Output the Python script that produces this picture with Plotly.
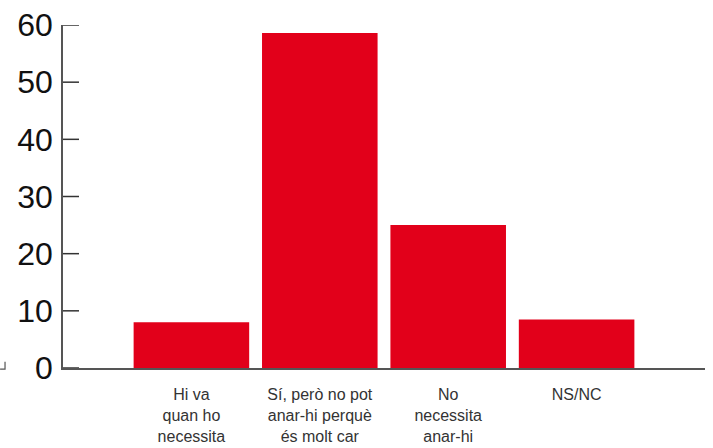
import plotly.graph_objects as go

categories = ["Hi va<br>quan ho<br>necessita",
              "Sí, però no pot<br>anar-hi perquè<br>és molt car",
              "No<br>necessita<br>anar-hi",
              "NS/NC"]
values = [8.0, 58.6, 25.0, 8.5]
yticks = [0, 10, 20, 30, 40, 50, 60]

xpos = list(range(len(categories)))

fig = go.Figure(go.Bar(x=xpos, y=values, marker_color="#E2001A",
                       marker_line_width=0, width=0.9))

tick_shapes = [dict(type="line", xref="paper", yref="y",
                    x0=0, x1=16 / 642, y0=t, y1=t,
                    line=dict(color="#333", width=1.5))
               for t in yticks]

fig.update_layout(
    width=713, height=448,
    margin=dict(l=63, r=8, t=25, b=80, autoexpand=False),
    paper_bgcolor="white", plot_bgcolor="white",
    showlegend=False,
    xaxis=dict(range=[-1, 4], tickvals=xpos, ticktext=categories,
               showline=True, linecolor="#555", linewidth=1.5,
               ticks="", showgrid=False, zeroline=False, automargin=False,
               tickfont=dict(family="Liberation Sans, Arial", size=16, color="#333"),
               ticklabelstandoff=11),
    yaxis=dict(range=[0, 60], tickvals=yticks,
               showline=True, linecolor="#555", linewidth=1.5,
               ticks="", showgrid=False, zeroline=False, automargin=False,
               tickfont=dict(family="Liberation Sans, Arial", size=32, color="#111"),
               ticklabelstandoff=2),
    shapes=tick_shapes + [dict(type="path", xref="paper", yref="paper",
                 path="M -0.098 -0.003 L -0.0903 -0.003 L -0.0903 0.018",
                 line=dict(color="#555", width=1.2))],
)

fig.write_html("out.html", config={"displayModeBar": False},
               post_script="document.body.style.margin='0';document.body.style.overflow='hidden';")
